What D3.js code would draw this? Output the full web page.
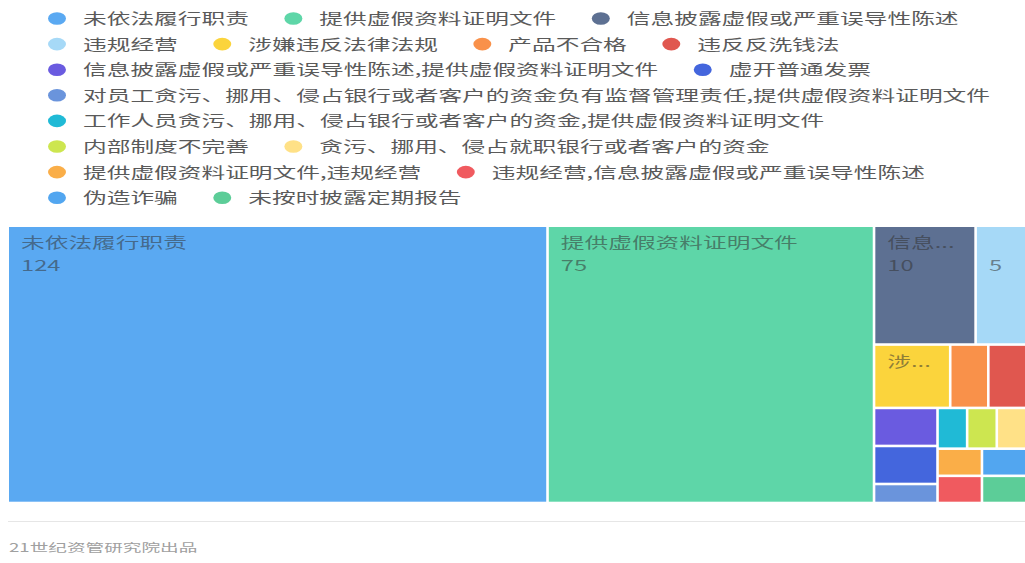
<!DOCTYPE html>
<html>
<head>
<meta charset="utf-8">
<script src="https://cdn.jsdelivr.net/npm/d3@7"></script>
<style>
  html, body { margin: 0; padding: 0; background: #fff; }
  svg { display: block; }
</style>
</head>
<body>
<svg id="chart" width="1025" height="563"></svg>
<script>
// Penalty causes and the number of cases for each
const categories = [
  "未依法履行职责",
  "提供虚假资料证明文件",
  "信息披露虚假或严重误导性陈述",
  "违规经营",
  "涉嫌违反法律法规",
  "产品不合格",
  "违反反洗钱法",
  "信息披露虚假或严重误导性陈述,提供虚假资料证明文件",
  "虚开普通发票",
  "对员工贪污、挪用、侵占银行或者客户的资金负有监督管理责任,提供虚假资料证明文件",
  "工作人员贪污、挪用、侵占银行或者客户的资金,提供虚假资料证明文件",
  "内部制度不完善",
  "贪污、挪用、侵占就职银行或者客户的资金",
  "提供虚假资料证明文件,违规经营",
  "违规经营,信息披露虚假或严重误导性陈述",
  "伪造诈骗",
  "未按时披露定期报告"
];
const counts = [124, 75, 10, 5, 4, 2, 2, 2, 2, 1, 1, 1, 1, 1, 1, 1, 1];
const palette = [
  "#5AA9F2", "#5ED6A8", "#5D7092", "#A6D9F7", "#FBD43C", "#F9914A",
  "#E0574F", "#6A5BE0", "#4466DD", "#6A94DC", "#20BAD6", "#CDE650",
  "#FFE187", "#FAAE48", "#F05A5F", "#52A6F0", "#5CCD98"
];
const footerText = "21世纪资管研究院出品";

const FONT = '"Noto Sans CJK SC", "Noto Sans", sans-serif';
const STRETCH = 1.58;          // glyphs are drawn horizontally widened
const svg = d3.select("#chart").style("font-family", FONT);

// ---------- legend (flowing rows) ----------
const legend = svg.append("g");
const legendLeft = 47.5, legendRight = 1012, rowH = 25.6, legendTop = 18.5;
let lx = legendLeft, row = 0;
categories.forEach((name, i) => {
  const g = legend.append("g");
  g.append("ellipse")
    .attr("cx", 9.5).attr("cy", 0)
    .attr("rx", 9).attr("ry", 6.3)
    .attr("fill", palette[i]);
  const t = g.append("text")
    .attr("transform", `translate(35.5,0) scale(${STRETCH},1)`)
    .attr("dy", "0.36em")
    .attr("font-size", 15)
    .attr("fill", "#5a5a5a")
    .text(name);
  const w = 35.5 + t.node().getComputedTextLength() * STRETCH;
  if (lx > legendLeft && lx + w > legendRight) { row += 1; lx = legendLeft; }
  g.attr("transform", `translate(${lx},${legendTop + row * rowH})`);
  lx += w + 35;
});

// ---------- treemap ----------
const plot = { x0: 7.7, x1: 1026.4, y0: 225.7, y1: 503 };
// Tiling runs on a narrower plane, then is stretched across the plot width.
const squash = 1.35;
const tileW = (plot.x1 - plot.x0) / squash;
const tileH = plot.y1 - plot.y0;

const root = d3.hierarchy({
    children: categories.map((name, i) => ({ name, value: counts[i], color: palette[i] }))
  })
  .sum(d => d.value || 0)
  .sort((a, b) => b.value - a.value);

d3.treemap().tile(d3.treemapSquarify).size([tileW, tileH])(root);

const x = d3.scaleLinear().domain([0, tileW]).range([plot.x0, plot.x1]);
const y = d3.scaleLinear().domain([0, tileH]).range([plot.y0, plot.y1]);
const half = 1.3;

const cells = svg.append("g")
  .selectAll("g")
  .data(root.leaves())
  .join("g")
  .attr("transform", d => `translate(${x(d.x0) + half},${y(d.y0) + half})`);

cells.append("rect")
  .attr("width", d => Math.max(0, x(d.x1) - x(d.x0) - 2 * half))
  .attr("height", d => Math.max(0, y(d.y1) - y(d.y0) - 2 * half))
  .attr("fill", d => d.data.color);

const pad = 12;
cells.each(function(d) {
  const w = x(d.x1) - x(d.x0) - 2 * half;
  const h = y(d.y1) - y(d.y0) - 2 * half;
  if (h < 40) return;
  const g = d3.select(this);
  const nameText = g.append("text")
    .attr("transform", `translate(${pad},${15.5}) scale(${STRETCH},1)`)
    .attr("dy", "0.36em")
    .attr("font-size", 15)
    .attr("fill", "#333")
    .attr("fill-opacity", 0.55);
  const maxW = w - 2 * pad;
  const measure = () => nameText.node().getComputedTextLength() * STRETCH;
  const full = d.data.name;
  nameText.text(full);
  if (measure() > maxW) {
    let fitted = "";
    for (let n = full.length - 1; n >= 1; n--) {
      nameText.text(full.slice(0, n) + "...");
      if (measure() <= maxW) { fitted = full.slice(0, n) + "..."; break; }
    }
    nameText.text(fitted);
  }
  if (h >= 80) {
    g.append("text")
      .attr("transform", `translate(${pad},${38.5}) scale(${STRETCH},1)`)
      .attr("dy", "0.36em")
      .attr("font-size", 15)
      .attr("fill", "#333")
      .attr("fill-opacity", 0.55)
      .text(d.data.value);
  }
});

// ---------- footer ----------
svg.append("line")
  .attr("x1", 8).attr("x2", 1025)
  .attr("y1", 521.5).attr("y2", 521.5)
  .attr("stroke", "#e6e6e6").attr("stroke-width", 1.2);

svg.append("text")
  .attr("transform", `translate(9,548) scale(${STRETCH},1)`)
  .attr("dy", "0.36em")
  .attr("font-size", 11.8)
  .attr("fill", "#a0a0a0")
  .text(footerText);
</script>
</body>
</html>
